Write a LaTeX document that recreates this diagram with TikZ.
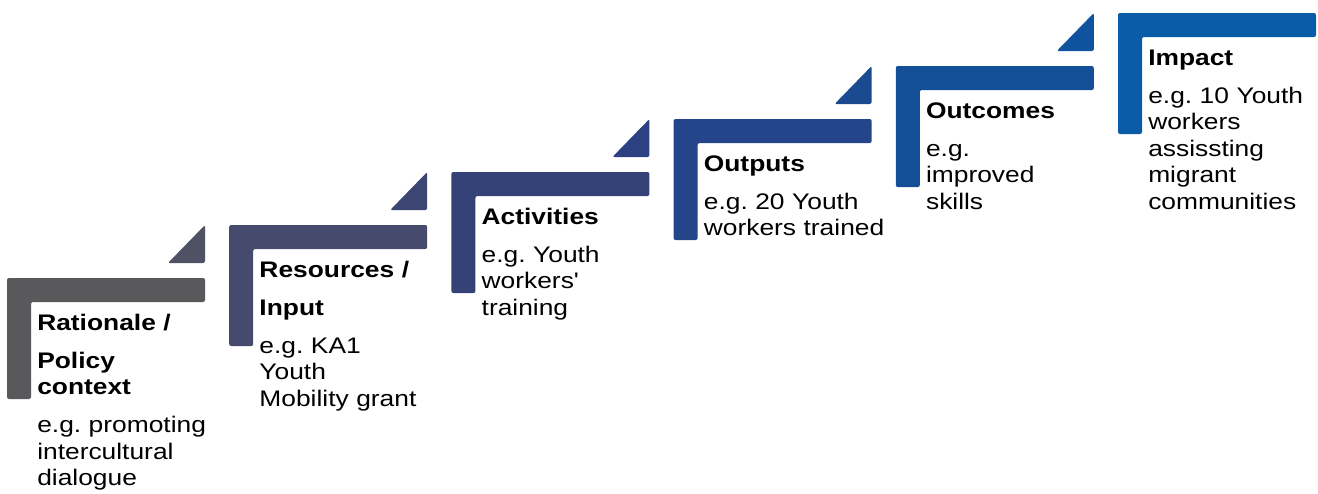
\documentclass[tikz,border=0pt]{standalone}
\usepackage{fontspec}
\setmainfont[FakeStretch=1.17]{Liberation Sans}
\frenchspacing

\definecolor{barA}{HTML}{59595B}
\definecolor{barB}{HTML}{464A6D}
\definecolor{barC}{HTML}{354277}
\definecolor{barD}{HTML}{24458A}
\definecolor{barE}{HTML}{134F96}
\definecolor{barF}{HTML}{0A5CA8}
\definecolor{triA}{HTML}{4F5165}
\definecolor{triB}{HTML}{3D4673}
\definecolor{triC}{HTML}{2C4181}
\definecolor{triD}{HTML}{1A4A90}
\definecolor{triE}{HTML}{0F539E}

\tikzset{
  stepshape/.style={rounded corners=1.5pt},
  steptitle/.style={anchor=base west, inner sep=0pt, text width=150pt, align=left,
    font=\fontsize{16.9}{19.9}\selectfont\bfseries},
  stepbody/.style={anchor=base west, inner sep=0pt, text width=150pt, align=left,
    font=\fontsize{16.9}{19.9}\selectfont}
}

\begin{document}
\begin{tikzpicture}[x=0.75pt,y=-0.75pt]
\useasboundingbox (0,0) rectangle (1318,493);

\foreach \i/\clr/\tclr in {0/barA/triA, 1/barB/triB, 2/barC/triC, 3/barD/triD, 4/barE/triE, 5/barF/none} {
    \pgfmathsetmacro{\x}{7+222.2*\i}
    \pgfmathsetmacro{\t}{278-53*\i}
    \coordinate (s\i) at (\x,\t);
    \fill[\clr,stepshape] (s\i) -- ++(198,0) -- ++(0,24) -- ++(-174,0) -- ++(0,97) -- ++(-24,0) -- cycle;
    \ifnum\i<5
        \fill[\tclr,stepshape] ([shift={(161,-15)}]s\i) -- ([shift={(198,-15)}]s\i) -- ([shift={(198,-53)}]s\i) -- cycle;
    \fi
}

\node[steptitle] (rationale) at ([shift={(30,52)}]s0) {Rationale /\\[8.6pt]Policy\\context};
\node[stepbody] (rationalebody) at ([shift={(30,154.5)}]s0) {e.g. promoting\\intercultural\\dialogue};
\node[steptitle] (input) at ([shift={(30,52)}]s1) {Resources /\\[8.6pt]Input};
\node[stepbody] (inputbody) at ([shift={(30,128)}]s1) {e.g. KA1\\Youth\\Mobility grant};
\node[steptitle] (activities) at ([shift={(30,52)}]s2) {Activities};
\node[stepbody] (activitiesbody) at ([shift={(30,90)}]s2) {e.g. Youth\\workers\textquotesingle\\training};
\node[steptitle] (outputs) at ([shift={(30,52)}]s3) {Outputs};
\node[stepbody] (outputsbody) at ([shift={(30,90)}]s3) {e.g. 20 Youth\\workers trained};
\node[steptitle] (outcomes) at ([shift={(30,52)}]s4) {Outcomes};
\node[stepbody] (outcomesbody) at ([shift={(30,90)}]s4) {e.g.\\improved\\skills};
\node[steptitle] (impact) at ([shift={(30,52)}]s5) {Impact};
\node[stepbody] (impactbody) at ([shift={(30,90)}]s5) {e.g. 10 Youth\\workers\\assissting\\migrant\\communities};
\end{tikzpicture}
\end{document}
